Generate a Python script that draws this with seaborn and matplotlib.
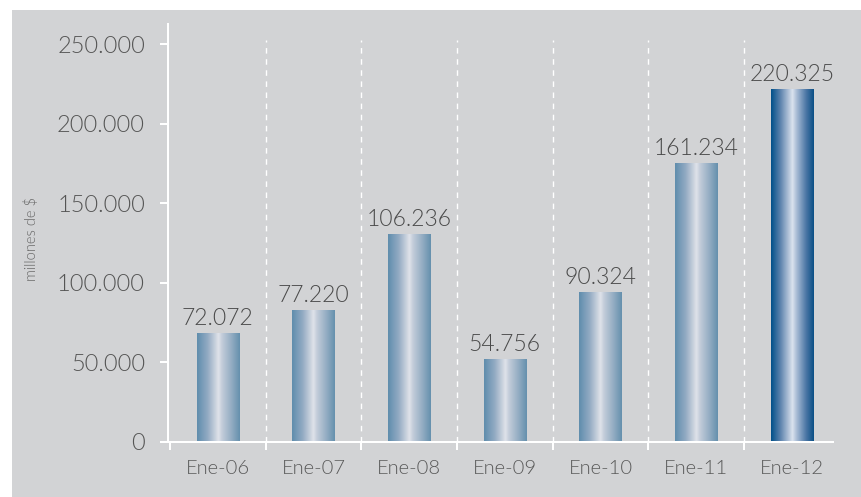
import numpy as np
import pandas as pd
import matplotlib
matplotlib.use("Agg")
import matplotlib.pyplot as plt
import seaborn as sns
from matplotlib.colors import LinearSegmentedColormap
from matplotlib.patches import Rectangle

# ---- data ----
categories = ["Ene-06", "Ene-07", "Ene-08", "Ene-09", "Ene-10", "Ene-11", "Ene-12"]
bar_heights = [68500, 82900, 130700, 52100, 94200, 175300, 221700]
bar_labels = ["72.072", "77.220", "106.236", "54.756", "90.324", "161.234", "220.325"]
y_ticks = [0, 50000, 100000, 150000, 200000, 250000]
y_tick_labels = ["0", "50.000", "100.000", "150.000", "200.000", "250.000"]

sns.set_theme(style="white")
plt.rcParams["font.family"] = ["Lato", "DejaVu Sans"]
plt.rcParams["font.weight"] = 300

W, H = 861, 497
PX = 72 / 100  # points per pixel

fig = plt.figure(figsize=(W / 100, H / 100), dpi=100, facecolor="white")
fig.patches.append(Rectangle((12 / W, 0), 1 - 12 / W, 1 - 10 / H,
                             transform=fig.transFigure, facecolor="#d2d3d5",
                             edgecolor="none", zorder=-10))

ax = fig.add_axes([168 / W, 55 / H, (833 - 168) / W, (442 - 24) / H])
ax.set_facecolor("none")
ax.set_zorder(5)

df = pd.DataFrame({"cat": categories, "val": bar_heights})
sns.barplot(data=df, x="cat", y="val", width=0.44, ax=ax, color="#6a93b0",
            saturation=1, zorder=3)

light = LinearSegmentedColormap.from_list("light", [
    (0.0, "#5f8dad"), (0.25, "#93abc3"), (0.42, "#c7d0dc"), (0.5, "#dfe3ea"),
    (0.58, "#c4cdda"), (0.8, "#94adc3"), (1.0, "#6590ad")])
dark = LinearSegmentedColormap.from_list("dark", [
    (0.0, "#00508a"), (0.22, "#5d83ad"), (0.42, "#b6c6db"), (0.5, "#dbe3ee"),
    (0.6, "#a9bcd5"), (0.82, "#4b76a5"), (1.0, "#0a4f86")])

grad = np.linspace(0, 1, 256).reshape(1, -1)
for i, p in enumerate(ax.patches):
    x0, y0 = p.get_x(), p.get_y()
    w, h = p.get_width(), p.get_height()
    p.set_facecolor("none")
    p.set_edgecolor("none")
    cmap = dark if i == len(categories) - 1 else light
    im = ax.imshow(grad, extent=[x0, x0 + w, y0, y0 + h], aspect="auto",
                   cmap=cmap, zorder=3, interpolation="bilinear")
    im.set_clip_path(p)
    ax.annotate(bar_labels[i], (x0 + w / 2, h), xytext=(0, 3),
                textcoords="offset points", ha="center", va="bottom",
                fontsize=16.5, color="#4a4a4a", zorder=5)

# dashed separators
for b in np.arange(0.5, len(categories) - 1, 1.0):
    ax.plot([b, b], [0, 252500], color="white", lw=1, ls=(0, (4, 4)), zorder=2)

ax.set_xlim(-0.52, 6.43)
ax.set_ylim(0, 262600)
ax.set_yticks(y_ticks)
ax.set_yticklabels(y_tick_labels)
ax.set_xlabel("")
ax.set_ylabel("")

for s in ["top", "right"]:
    ax.spines[s].set_visible(False)
for s in ["left", "bottom"]:
    ax.spines[s].set_color("white")
    ax.spines[s].set_linewidth(2 * PX)
    ax.spines[s].set_zorder(4)

ax.tick_params(axis="y", which="major", left=True, length=8 * PX, width=2 * PX,
               color="white", pad=15 * PX, labelsize=17, labelcolor="#555555")
ax.tick_params(axis="x", which="major", bottom=False, length=0, pad=10 * PX + 8 * PX,
               labelsize=14.5, labelcolor="#5a5a5a")
ax.set_xticks(np.arange(-0.5, len(categories) - 1, 1.0), minor=True)
ax.tick_params(axis="x", which="minor", bottom=True, length=8 * PX, width=2 * PX,
               color="white")

fig.text(31 / W, 1 - 239 / H, "millones de $", rotation=90, ha="center",
         va="center", fontsize=10.5, color="#666666")

fig.savefig("out.png", dpi=100, facecolor="white")
